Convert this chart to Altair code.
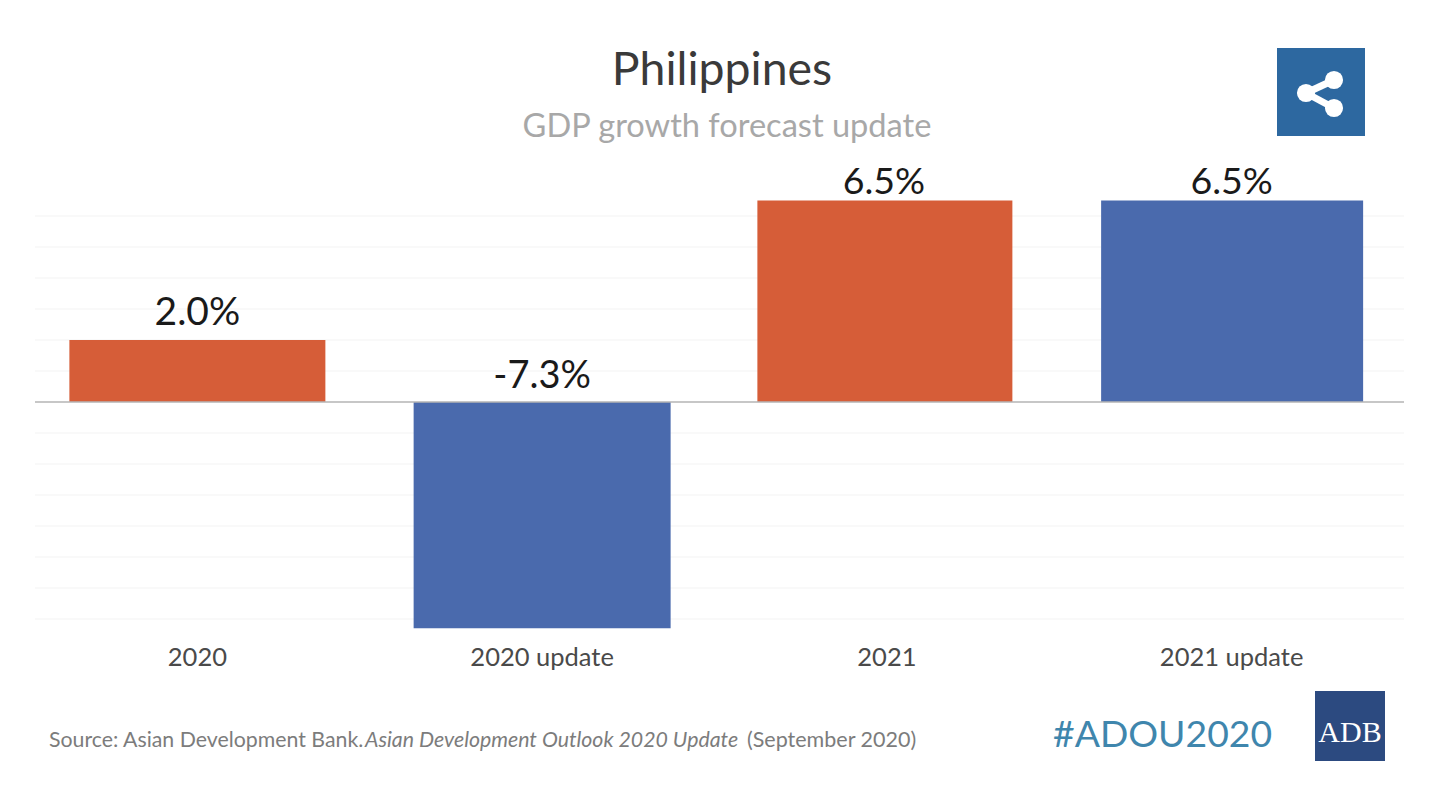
import altair as alt
import pandas as pd

categories = ["2020", "2020 update", "2021", "2021 update"]
values = [2.0, -7.3, 6.5, 6.5]
labels = ["2.0%", "-7.3%", "6.5%", "6.5%"]
kinds = ["old", "new", "old", "new"]
grid_values = [6, 5, 4, 3, 2, 1, -1, -2, -3, -4, -5, -6, -7]
FONT = "Lato"
W, H = 1419, 773

df = pd.DataFrame({"cat": categories, "val": values, "label": labels, "kind": kinds})
df["zero"] = 0
df["top"] = df["val"].clip(lower=0)
grid = pd.DataFrame({"g": grid_values})

yscale = alt.Scale(domain=[-12.226, 12.71], range=[H, 0], nice=False, zero=False)
xscale = alt.Scale(domain=categories, range=[17, 1396], paddingInner=0.255, paddingOuter=0.1275)
colors = alt.Scale(domain=["old", "new"], range=["#d65d38", "#4a6aad"])
xaxis = alt.Axis(orient="bottom", offset=-136, domain=False, ticks=False, labelAngle=0,
                 labelFont=FONT, labelFontSize=25.5, labelColor="#4a4a4a", labelPadding=0,
                 grid=False)
xenc = alt.X("cat:N", scale=xscale, sort=categories, title=None, axis=xaxis)

gridlines = alt.Chart(grid).mark_rule(color="#f3f3f3", strokeWidth=1).encode(
    y=alt.Y("g:Q", scale=yscale, axis=None), x=alt.value(27), x2=alt.value(1396))


def bar_layer(cat, size, dx):
    return alt.Chart(df[df["cat"] == cat]).mark_bar(size=size, xOffset=dx).encode(
        x=xenc,
        y=alt.Y("val:Q", scale=yscale, axis=None),
        y2="zero:Q",
        color=alt.Color("kind:N", scale=colors, legend=None),
    )


zero = alt.Chart(pd.DataFrame({"z": [0]})).mark_rule(color="#b5b5b5", strokeWidth=1.5).encode(
    y=alt.Y("z:Q", scale=yscale, axis=None), x=alt.value(27), x2=alt.value(1396))


def value_label(cat, size, dy, dx):
    return alt.Chart(df[df["cat"] == cat]).mark_text(
        font=FONT, fontSize=size, color="#1a1a1a", baseline="alphabetic", dy=dy, dx=dx
    ).encode(x=xenc, y=alt.Y("top:Q", scale=yscale, axis=None), text="label:N")


def txt(s, x, y, size, color, align="left", style="normal", font=FONT):
    return alt.Chart(pd.DataFrame({"t": [s]})).mark_text(
        font=font, fontSize=size, color=color, align=align, fontStyle=style, baseline="alphabetic"
    ).encode(x=alt.value(x - 8), y=alt.value(y - 8), text="t:N")


def box(x0, x1, y0, y1, color):
    return alt.Chart(pd.DataFrame({"a": [0]})).mark_rect(color=color).encode(
        x=alt.value(x0 - 8), x2=alt.value(x1 - 8), y=alt.value(y0 - 8), y2=alt.value(y1 - 8))


def seg(x0, y0, x1, y1):
    return alt.Chart(pd.DataFrame({"a": [0]})).mark_rule(color="white", strokeWidth=7).encode(
        x=alt.value(x0 - 8), x2=alt.value(x1 - 8), y=alt.value(y0 - 8), y2=alt.value(y1 - 8))


def dot(x, y):
    return alt.Chart(pd.DataFrame({"a": [0]})).mark_point(filled=True, color="white", size=330, opacity=1).encode(
        x=alt.value(x - 8), y=alt.value(y - 8))


layers = [
    gridlines,
    bar_layer("2020", 256, 0),
    bar_layer("2020 update", 257, 0),
    bar_layer("2021", 255, -2),
    bar_layer("2021 update", 262, 0.5),
    zero,
    value_label("2020", 39, -15, 0),
    value_label("2020 update", 38, -14, 0),
    value_label("2021", 37.5, -7, -3),
    value_label("2021 update", 37.5, -7, 0),
    txt("Philippines", 722, 85, 46.4, "#3a3a3a", "center"),
    txt("GDP growth forecast update", 727, 137, 32.6, "#a8a8a8", "center"),
    txt("Source: Asian Development Bank.", 49, 747, 21.3, "#7c7c7c"),
    txt("Asian Development Outlook 2020 Update", 365, 747, 21.3, "#7c7c7c", style="italic"),
    txt("(September 2020)", 747, 747, 21.5, "#7c7c7c"),
    txt("#ADOU2020", 1053, 747, 37.3, "#3f86ad"),
    box(1277, 1365, 48, 136, "#2d68a0"),
    seg(1306, 93, 1334, 80), seg(1306, 93, 1334, 108),
    dot(1334, 80), dot(1306, 93), dot(1334, 108),
    box(1315, 1385, 691, 761, "#2c4a80"),
    txt("ADB", 1350, 742, 30, "white", "center", font="Liberation Serif"),
]

chart = alt.layer(*layers).resolve_scale(x="shared", y="shared").properties(
    width=W, height=H, padding=0, autosize=alt.AutoSizeParams(type="none"), background="#ffffff"
).configure_view(stroke=None)

chart.save("out.html", embed_options={"renderer": "svg", "actions": False})
